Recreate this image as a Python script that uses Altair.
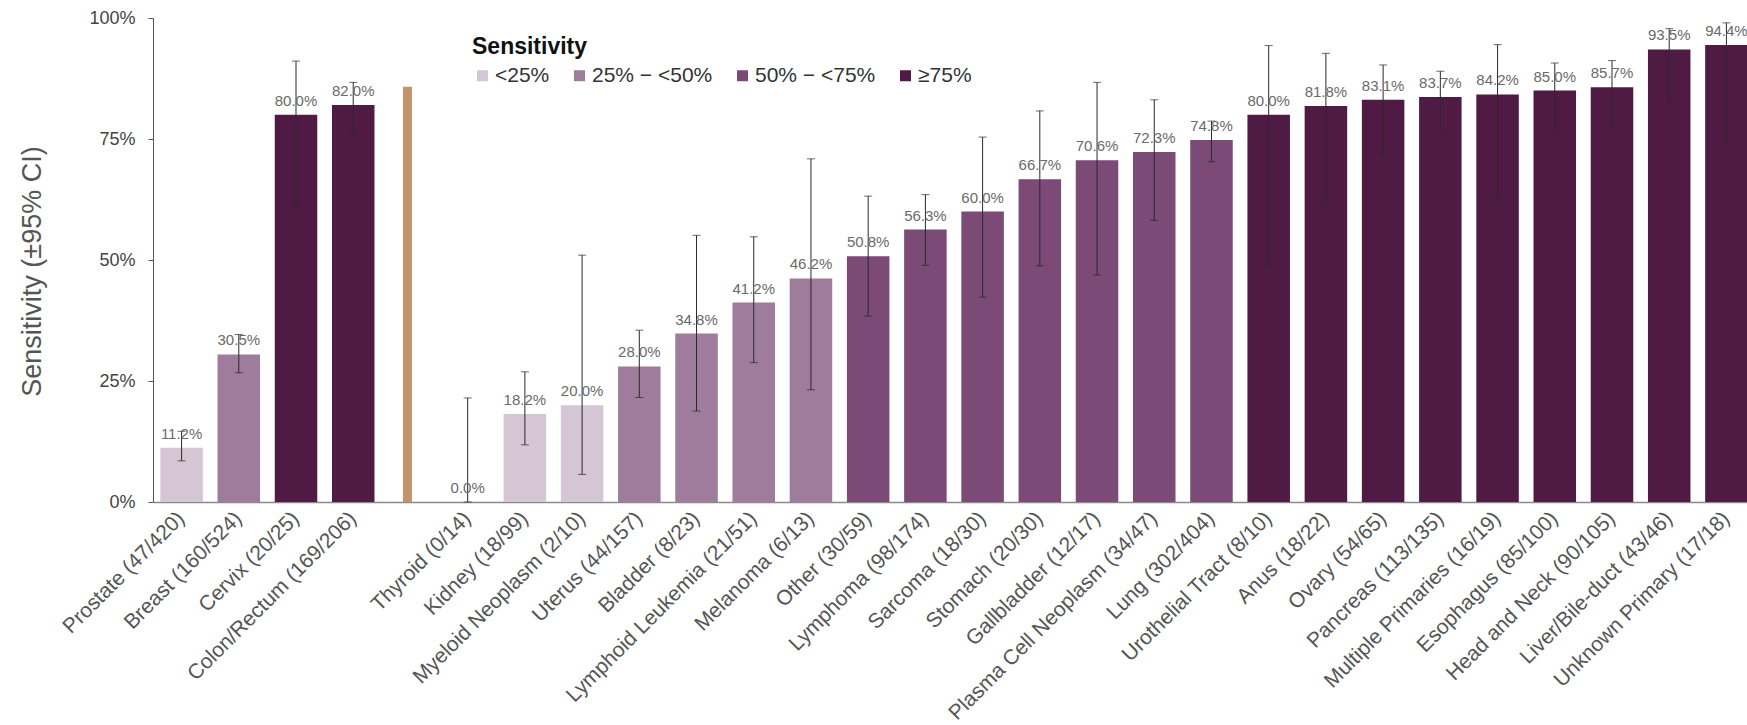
import altair as alt
import pandas as pd

# Cancer sites with detected/total counts, in plotting order
sites = [
    "Prostate (47/420)", "Breast (160/524)", "Cervix (20/25)", "Colon/Rectum (169/206)",
    "Thyroid (0/14)", "Kidney (18/99)", "Myeloid Neoplasm (2/10)", "Uterus (44/157)",
    "Bladder (8/23)", "Lymphoid Leukemia (21/51)", "Melanoma (6/13)", "Other (30/59)",
    "Lymphoma (98/174)", "Sarcoma (18/30)", "Stomach (20/30)", "Gallbladder (12/17)",
    "Plasma Cell Neoplasm (34/47)", "Lung (302/404)", "Urothelial Tract (8/10)",
    "Anus (18/22)", "Ovary (54/65)", "Pancreas (113/135)", "Multiple Primaries (16/19)",
    "Esophagus (85/100)", "Head and Neck (90/105)", "Liver/Bile-duct (43/46)",
    "Unknown Primary (17/18)",
]
# Sensitivity (%) and 95% CI bounds (%)
sensitivity = [11.2, 30.5, 80.0, 82.0, 0.0, 18.2, 20.0, 28.0, 34.8, 41.2, 46.2, 50.8,
               56.3, 60.0, 66.7, 70.6, 72.3, 74.8, 80.0, 81.8, 83.1, 83.7, 84.2, 85.0,
               85.7, 93.5, 94.4]
ci_low = [8.5, 26.7, 60.9, 76.2, 0.0, 11.8, 5.7, 21.6, 18.8, 28.8, 23.2, 38.4, 48.9,
          42.3, 48.8, 46.9, 58.2, 70.3, 49.0, 61.5, 72.2, 76.6, 62.4, 76.7, 77.8, 82.5, 74.2]
ci_high = [14.6, 34.6, 91.1, 86.7, 21.5, 26.9, 51.0, 35.5, 55.1, 54.8, 70.9, 63.2, 63.5,
           75.4, 80.8, 86.7, 83.1, 78.7, 94.3, 92.7, 90.3, 89.0, 94.5, 90.7, 91.2, 97.8, 99.0]

# Sensitivity bands for the colour legend
bands = ["<25%", "25% \u2212 <50%", "50% \u2212 <75%", "\u226575%"]
band_colors = ["#d4c6d5", "#9f7c9c", "#7b4a76", "#4f1b45"]

# Separator slot between the screened cancers and the rest
gap_slot = ""
divider_height = [85.8]
divider_color = "#c3946a"

x_domain = sites[:4] + [gap_slot] + sites[4:]


def band_of(v):
    if v < 25:
        return bands[0]
    if v < 50:
        return bands[1]
    if v < 75:
        return bands[2]
    return bands[3]


df = pd.DataFrame({
    "site": sites,
    "sens": sensitivity,
    "lo": ci_low,
    "hi": ci_high,
})
df["band"] = [band_of(v) for v in sensitivity]
df["label"] = [f"{v:.1f}%" for v in sensitivity]

div_df = pd.DataFrame({"site": [gap_slot], "h": divider_height})

FONT = "Liberation Sans"

xscale = alt.Scale(domain=x_domain, range=[0, 1602], paddingInner=0.257, paddingOuter=0.128)
yscale = alt.Scale(domain=[0, 100], nice=False, zero=True)

x_enc = alt.X(
    "site:N", scale=xscale, sort=x_domain, title=None,
    axis=alt.Axis(
        labelAngle=-45, labelAlign="right", labelBaseline="middle",
        labelFontSize=21, labelColor="#555555", labelFont=FONT, labelPadding=13,
        ticks=False, domainColor="#8a8a8a", domainWidth=1.5, labelLimit=400,
    ),
)
y_axis = alt.Axis(
    values=[0, 25, 50, 75, 100], labelExpr="datum.value + '%'",
    labelFontSize=18, labelColor="#444444", labelFont=FONT, labelPadding=13,
    tickSize=5, tickColor="#555555", domainColor="#555555", grid=False,
    title="Sensitivity (\u00b195% CI)", titleFontSize=27, titleFontWeight="normal",
    titleColor="#555555", titleFont=FONT, titleAngle=-90, titleX=-121, titleY=253,
    titleAlign="center", titleBaseline="middle",
)

base = alt.Chart(df)

bars = base.mark_bar().encode(
    x=x_enc,
    y=alt.Y("sens:Q", scale=yscale, axis=y_axis),
    color=alt.Color(
        "band:N",
        scale=alt.Scale(domain=bands, range=band_colors),
        legend=alt.Legend(
            title="Sensitivity", orient="none", direction="horizontal",
            legendX=319, legendY=18, padding=0,
            titleFontSize=23, titleFontWeight="bold", titleColor="#111111", titleFont=FONT,
            titlePadding=6,
            labelFontSize=21, labelColor="#333333", labelFont=FONT, labelOffset=2,
            symbolType="square", symbolSize=121, symbolStrokeWidth=0,
            columnPadding=19, labelLimit=300,
        ),
    ),
)

divider = alt.Chart(div_df).mark_bar(size=9, color=divider_color, xOffset=-3).encode(
    x=alt.X("site:N", scale=xscale, sort=x_domain),
    y=alt.Y("h:Q", scale=yscale),
)

err = base.mark_rule(color="#2a2a2a", strokeWidth=1).encode(
    x=alt.X("site:N", scale=xscale, sort=x_domain),
    y=alt.Y("lo:Q", scale=yscale),
    y2="hi:Q",
)
cap_lo = base.mark_tick(color="#2a2a2a", size=8, thickness=1).encode(
    x=alt.X("site:N", scale=xscale, sort=x_domain),
    y=alt.Y("lo:Q", scale=yscale),
)
cap_hi = base.mark_tick(color="#2a2a2a", size=8, thickness=1).encode(
    x=alt.X("site:N", scale=xscale, sort=x_domain),
    y=alt.Y("hi:Q", scale=yscale),
)

labels = base.mark_text(
    fontSize=15, color="#6a6a6a", font=FONT, baseline="alphabetic", dy=-9,
).encode(
    x=alt.X("site:N", scale=xscale, sort=x_domain),
    y=alt.Y("sens:Q", scale=yscale),
    text="label:N",
)

chart = (
    alt.layer(bars, divider, err, cap_lo, cap_hi, labels)
    .properties(
        width=1594, height=484,
        padding={"left": 153, "top": 18, "right": 0, "bottom": 223},
        autosize=alt.AutoSizeParams(type="none"),
        background="white",
    )
    .configure_view(stroke=None)
)

chart.save("out.html", embed_options={"renderer": "svg", "actions": False})
